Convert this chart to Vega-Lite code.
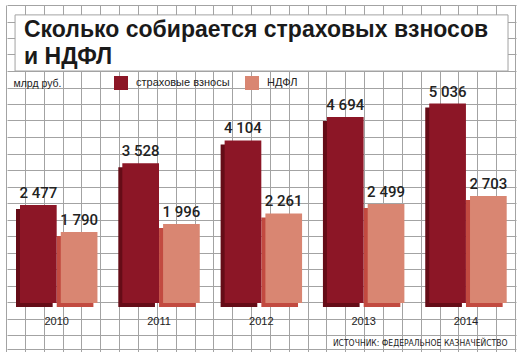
{
  "$schema": "https://vega.github.io/schema/vega-lite/v6.json",
  "width": 522,
  "height": 358,
  "autosize": {"type": "none"},
  "padding": 0,
  "background": "white",
  "config": {
    "view": {"stroke": null},
    "locale": {"number": {"decimal": ",", "thousands": " ", "grouping": [3], "currency": ["", ""]}}
  },
  "title": {
    "text": ["Сколько собирается страховых взносов", "и НДФЛ"],
    "anchor": "start",
    "frame": "group",
    "orient": "top",
    "offset": -69,
    "dx": 24,
    "font": "Liberation Sans",
    "fontSize": 23,
    "fontWeight": "bold",
    "color": "#1a1a1a",
    "lineHeight": 27
  },
  "datasets": {
    "bars": [
      {"year": "2010", "series": "страховые взносы", "value": 2477},
      {"year": "2010", "series": "НДФЛ", "value": 1790},
      {"year": "2011", "series": "страховые взносы", "value": 3528},
      {"year": "2011", "series": "НДФЛ", "value": 1996},
      {"year": "2012", "series": "страховые взносы", "value": 4104},
      {"year": "2012", "series": "НДФЛ", "value": 2261},
      {"year": "2013", "series": "страховые взносы", "value": 4694},
      {"year": "2013", "series": "НДФЛ", "value": 2499},
      {"year": "2014", "series": "страховые взносы", "value": 5036},
      {"year": "2014", "series": "НДФЛ", "value": 2703}
    ],
    "panel": [{"name": "title box"}]
  },
  "layer": [
    {
      "data": {"name": "panel"},
      "mark": {"type": "rect", "fill": "white", "stroke": "#a3a3a3", "strokeWidth": 1},
      "encoding": {
        "x": {
          "datum": 0.48, "type": "quantitative",
          "scale": {"domain": [0, 27], "range": [6, 515], "zero": false, "nice": false},
          "axis": {"orient": "top", "values": [0,1,2,3,4,5,6,7,8,9,10,11,12,13,14,15,16,17,18,19,20,21,22,23,24,25,26,27], "grid": true, "gridColor": "#a3a3a3", "gridWidth": 1, "gridOpacity": 1, "labels": false, "ticks": false, "domain": false, "title": null}
        },
        "x2": {"datum": 26.63},
        "y": {
          "datum": 0.6, "type": "quantitative",
          "scale": {"domain": [0, 21], "range": [5, 351.5], "zero": false, "nice": false},
          "axis": {"orient": "right", "values": [0,1,2,3,4,5,6,7,8,9,10,11,12,13,14,15,16,17,18,19,20,20.85], "grid": true, "gridColor": "#a3a3a3", "gridWidth": 1, "gridOpacity": 1, "labels": false, "ticks": false, "domain": false, "title": null}
        },
        "y2": {"datum": 4}
      }
    },
    {
      "data": {"name": "bars"},
      "encoding": {
        "x": {"field": "year", "type": "nominal",
              "scale": {"range": [20, 506.7], "paddingInner": 0.243, "paddingOuter": 0},
              "axis": {"orient": "bottom", "offset": -45, "labelPadding": 2, "labelOffset": -2, "labelAngle": 0, "labelFont": "Liberation Sans", "labelFontSize": 11, "labelColor": "#222", "ticks": false, "domain": false, "grid": false,
                       "title": "ИСТОЧНИК: ФЕДЕРАЛЬНОЕ КАЗНАЧЕЙСТВО", "titleFont": "'DejaVu Sans Condensed', 'Liberation Sans', sans-serif", "titleFontSize": 8.5, "titleFontWeight": "normal", "titleColor": "#222", "titleAnchor": "end", "titleAlign": "right", "titleBaseline": "alphabetic", "titleX": 507, "titleY": 32}},
        "y": {"field": "value", "type": "quantitative",
              "scale": {"domain": [0, 5000], "range": [303, 105], "zero": true, "nice": false},
              "axis": {"orient": "left", "labels": false, "ticks": false, "domain": false, "grid": false,
                       "title": "млрд руб.", "titleAngle": 0, "titleAlign": "left", "titleBaseline": "alphabetic", "titleX": 13, "titleY": 86, "titleFont": "Liberation Sans", "titleFontSize": 10.5, "titleFontWeight": "normal", "titleColor": "#222"}}
      },
      "layer": [
        {
          "mark": {"type": "bar", "yOffset": 4},
          "encoding": {
            "xOffset": {"field": "series", "type": "nominal", "scale": {"domain": ["страховые взносы", "НДФЛ"], "range": [-4, 73.4], "paddingInner": 0.1, "paddingOuter": 0}},
            "fill": {"condition": {"test": "datum.series === 'страховые взносы'", "value": "#650c17"}, "value": "#c24a40"}
          }
        },
        {
          "layer": [
            {
              "mark": {"type": "bar"},
              "encoding": {
                "color": {"field": "series", "type": "nominal",
                          "scale": {"domain": ["страховые взносы", "НДФЛ"], "range": ["#8c1626", "#d98672"]},
                          "legend": {"orient": "none", "legendX": 114, "legendY": 76, "direction": "horizontal", "title": null, "padding": 0,
                                     "symbolType": "square", "symbolSize": 196, "symbolStrokeWidth": 0, "symbolOpacity": 1,
                                     "labelFont": "Liberation Sans", "labelFontSize": 11, "labelColor": "#222", "labelOffset": 8, "columnPadding": 15}}
              }
            },
            {
              "mark": {"type": "text", "dy": -7, "baseline": "alphabetic", "align": "center", "font": "Roboto", "fontSize": 15, "fontWeight": 500, "color": "#222"},
              "encoding": {
                "text": {"field": "value", "type": "quantitative", "format": ",d"}
              }
            }
          ],
          "encoding": {
            "xOffset": {"field": "series", "type": "nominal", "scale": {"domain": ["страховые взносы", "НДФЛ"], "paddingInner": 0.1, "paddingOuter": 0}}
          }
        }
      ],
      "resolve": {"scale": {"xOffset": "independent"}}
    }
  ],
  "resolve": {"scale": {"x": "independent", "y": "independent"}, "axis": {"x": "independent", "y": "independent"}}
}
